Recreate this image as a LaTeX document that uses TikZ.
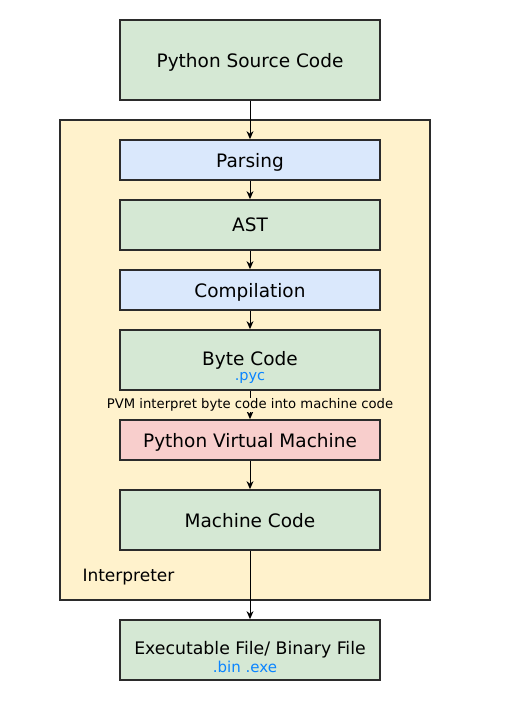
\documentclass[tikz,border=0pt]{standalone}
\usepackage{fontspec}
\setmainfont{DejaVu Sans}
\usetikzlibrary{arrows.meta}
\definecolor{grn}{HTML}{D5E8D4}
\definecolor{blu}{HTML}{DAE8FC}
\definecolor{rd}{HTML}{F8CECC}
\definecolor{yel}{HTML}{FFF2CC}
\definecolor{edge}{HTML}{2B2B2B}
\definecolor{ext}{HTML}{0A84FF}
\tikzset{
  box/.style={draw=edge, line width=1.8pt, minimum width=260pt, inner sep=0pt, font=\fontsize{18.5}{22}\selectfont, text=black, text depth=0pt},
  gbox/.style={box, fill=grn},
  bbox/.style={box, fill=blu},
  rbox/.style={box, fill=rd},
  arr/.style={-{Stealth[length=8pt,width=7pt]}, line width=1pt, black},
  sub/.style={font=\fontsize{14.5}{17}\selectfont, text=ext, inner sep=0pt},
  main/.style={inner sep=0pt}
}
\begin{document}
\begin{tikzpicture}[x=1pt,y=-1pt]
\useasboundingbox (0,0) rectangle (510,720);
\fill[white] (0,0) rectangle (510,720);
\draw[draw=edge, line width=1.8pt, fill=yel] (60,120) rectangle (430,600);
\node[gbox, minimum height=80pt] (src) at (250,60) {Python Source Code};
\node[bbox, minimum height=40pt] (parse) at (250,160) {Parsing};
\node[gbox, minimum height=50pt] (ast) at (250,225) {AST};
\node[bbox, minimum height=40pt] (comp) at (250,290) {Compilation};
\node[gbox, minimum height=60pt] (byte) at (250,360) {};
\node[main, font=\fontsize{18.5}{22}\selectfont] (bytet) at (250,360) {Byte Code};
\node[sub] (pyc) at (250,378) {.pyc};
\node[rbox, minimum height=40pt] (pvm) at (250,440) {Python Virtual Machine};
\node[gbox, minimum height=60pt] (mc) at (250,520) {Machine Code};
\node[font=\fontsize{17}{20}\selectfont, anchor=west] (interp) at (79,577) {Interpreter};
\node[gbox, minimum height=60pt] (exe) at (250,650) {};
\node[main, font=\fontsize{17.3}{20}\selectfont] (exet) at (250,650) {Executable File/ Binary File};
\node[sub, font=\fontsize{15}{17}\selectfont] (bin) at (245,667) {.bin .exe};
\draw[arr] (src) -- (parse);
\draw[arr] (parse) -- (ast);
\draw[arr] (ast) -- (comp);
\draw[arr] (comp) -- (byte);
\draw[arr] (byte) -- node[fill=yel, inner sep=1pt, font=\fontsize{13.2}{15}\selectfont, text=black] (lbl) {PVM interpret byte code into machine code} (pvm);
\draw[arr] (pvm) -- (mc);
\draw[arr] (mc) -- (exe);
\end{tikzpicture}
\end{document}
